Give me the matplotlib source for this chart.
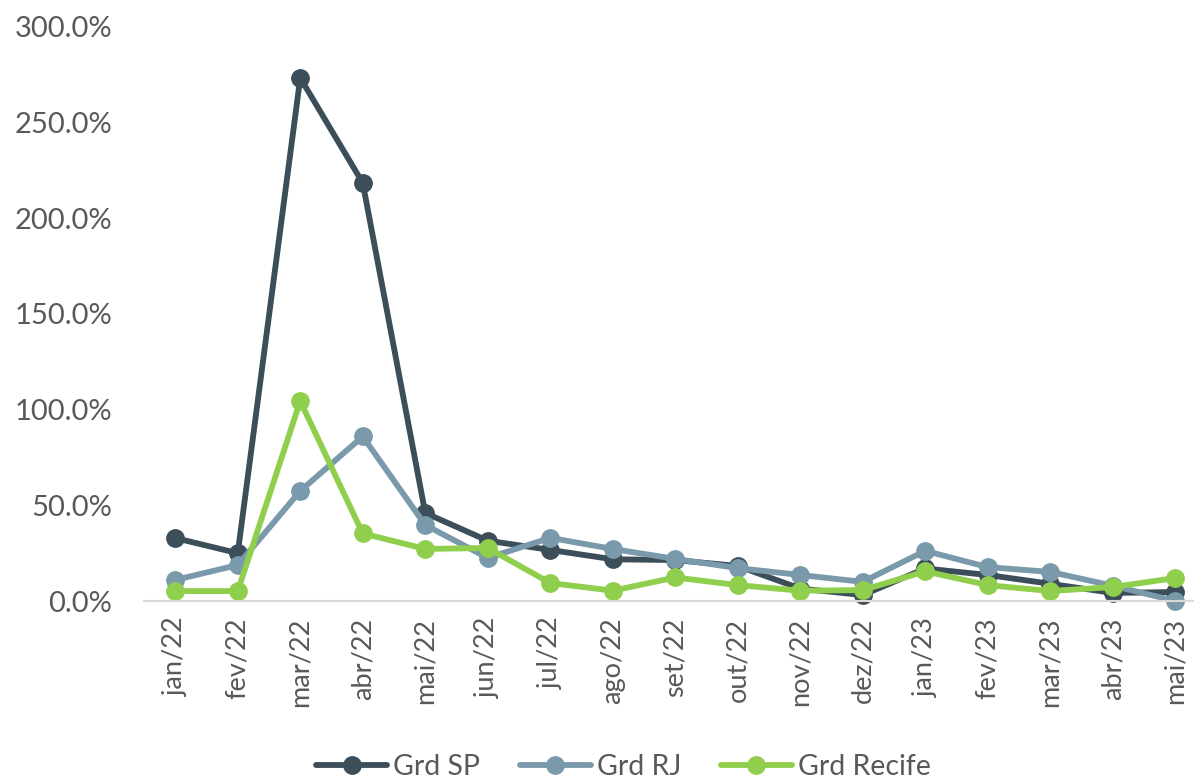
import matplotlib

matplotlib.use("Agg")
import matplotlib.pyplot as plt
from matplotlib.ticker import FuncFormatter

plt.rcParams["font.family"] = ["Lato", "DejaVu Sans"]

months = ["jan/22", "fev/22", "mar/22", "abr/22", "mai/22", "jun/22", "jul/22", "ago/22",
          "set/22", "out/22", "nov/22", "dez/22", "jan/23", "fev/23", "mar/23", "abr/23", "mai/23"]
grd_sp = [32.9, 25.0, 273.4, 218.5, 46.0, 31.5, 26.7, 21.8, 21.4, 18.3, 6.5, 3.1, 17.0, 13.6, 9.0, 4.2, 4.7]
grd_rj = [11.0, 18.8, 57.5, 86.0, 39.7, 22.5, 33.0, 27.2, 22.0, 17.2, 13.6, 10.0, 26.2, 17.7, 15.2, 8.0, 0.0]
grd_recife = [5.2, 5.2, 104.5, 35.3, 27.2, 27.7, 9.4, 5.4, 12.3, 8.3, 5.4, 5.7, 15.5, 8.3, 5.2, 7.3, 12.0]

series = [("Grd SP", grd_sp, "#3c4e59"), ("Grd RJ", grd_rj, "#7a9aab"), ("Grd Recife", grd_recife, "#90cf4d")]
text_color = "#595959"

fig = plt.figure(figsize=(11.94, 7.82), dpi=100)
ax = fig.add_axes([144 / 1194, 181 / 782, 1050 / 1194, 574 / 782])

x = list(range(len(months)))
for name, values, color in series:
    ax.plot(x, values, color=color, linewidth=4.2, marker="o", markersize=12.5,
            label=name, clip_on=False, solid_capstyle="round")

ax.set_xlim(-0.5, 16.3)
ax.set_ylim(0, 300)
ax.set_yticks([0, 50, 100, 150, 200, 250, 300])
ax.yaxis.set_major_formatter(FuncFormatter(lambda v, _: f"{v:.1f}%"))
ax.set_xticks(x)
ax.set_xticklabels(months, rotation=90)

for side in ["top", "right", "left"]:
    ax.spines[side].set_visible(False)
ax.spines["bottom"].set_color("#d9d9d9")
ax.spines["bottom"].set_linewidth(1.5)
ax.tick_params(axis="both", length=0, colors=text_color)
ax.tick_params(axis="y", pad=23, labelsize=21)
ax.tick_params(axis="x", pad=12, labelsize=19.5)

fig.legend(loc="center", bbox_to_anchor=(0.522, 0.019), bbox_transform=fig.transFigure,
           ncol=3, frameon=False, fontsize=20.5, labelcolor=text_color,
           handlelength=2.5, handletextpad=0.2, columnspacing=1.4, borderpad=0)

fig.savefig("out.png", dpi=100)
